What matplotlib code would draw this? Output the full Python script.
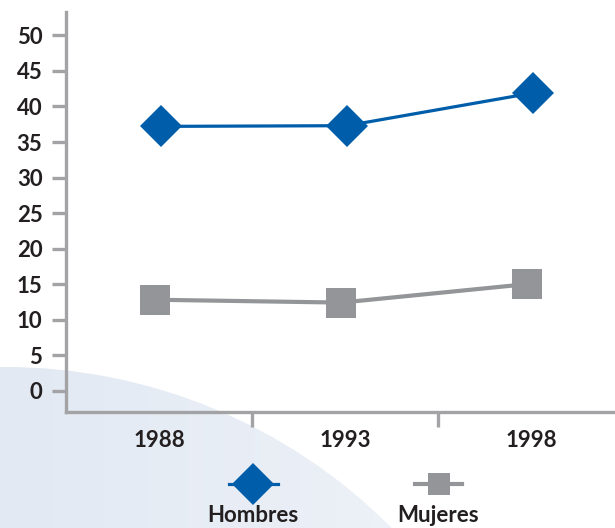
import numpy as np
import matplotlib
matplotlib.use("Agg")
import matplotlib.pyplot as plt
from matplotlib.patches import Circle
from matplotlib.lines import Line2D

years = ["1988", "1993", "1998"]
hombres = [37.2, 37.3, 41.9]
mujeres = [12.8, 12.4, 15.0]
yticks = [0, 5, 10, 15, 20, 25, 30, 35, 40, 45, 50]

blue = "#005daa"
gray = "#939598"
axis_gray = "#a3a3a5"

plt.rcParams["font.family"] = ["Lato", "DejaVu Sans"]

fig = plt.figure(figsize=(6.15, 5.28), dpi=100)

# light blue gradient disc in the lower left corner
bg = fig.add_axes([0, 0, 1, 1], zorder=0)
bg.set_xlim(0, 615)
bg.set_ylim(528, 0)
bg.axis("off")
grad = np.linspace(0, 1, 256)[None, :]
cmap = matplotlib.colors.LinearSegmentedColormap.from_list("bg", ["#e2e9f3", "#f1f4f9"])
im = bg.imshow(grad, extent=[0, 560, 528, 360], cmap=cmap, aspect="auto")
disc = Circle((5, 912), 545, transform=bg.transData, facecolor="none", edgecolor="none")
bg.add_patch(disc)
im.set_clip_path(disc)

ax = fig.add_axes([66 / 615, 116 / 528, 558 / 615, 400 / 528], zorder=1)
ax.patch.set_alpha(0)
x = np.arange(len(years))

ax.plot(x + 0.01, hombres, color=blue, lw=2.3, marker="D", ms=21,
        markeredgewidth=0, zorder=3)
ax.plot(x - 0.02, mujeres, color=gray, lw=3, marker="s", ms=21,
        markeredgewidth=0, zorder=3)

ax.set_xlim(-0.5, 2.5)
ax.set_ylim(-3, 53.3)
ax.set_yticks(yticks)
ax.set_xticks(x)
ax.set_xticklabels(years)
ax.set_xticks([0.5, 1.5], minor=True)

for s in ["top", "right"]:
    ax.spines[s].set_visible(False)
for s in ["left", "bottom"]:
    ax.spines[s].set_color(axis_gray)
    ax.spines[s].set_linewidth(2.4)

ax.tick_params(axis="y", length=10, width=2.4, color=axis_gray, pad=7,
               labelsize=16, labelcolor="#231f20")
ax.tick_params(axis="x", which="major", length=0, pad=13,
               labelsize=16, labelcolor="#231f20")
ax.tick_params(axis="x", which="minor", length=11, width=2.4, color=axis_gray)
for lab in ax.get_xticklabels() + ax.get_yticklabels():
    lab.set_fontweight("bold")

# legend: marker above its label
bg.add_line(Line2D([229, 278], [484, 484], color=blue, lw=2.3))
bg.add_line(Line2D([253], [484], color=blue, marker="D", ms=21, markeredgewidth=0))
bg.text(253, 516, "Hombres", ha="center", va="center", fontsize=16,
        fontweight="bold", color="#231f20")
bg.add_line(Line2D([415, 462], [484, 484], color=gray, lw=3))
bg.add_line(Line2D([439], [484], color=gray, marker="s", ms=16, markeredgewidth=0))
bg.text(438, 516, "Mujeres", ha="center", va="center", fontsize=16,
        fontweight="bold", color="#231f20")

fig.savefig("out.png", dpi=100)
